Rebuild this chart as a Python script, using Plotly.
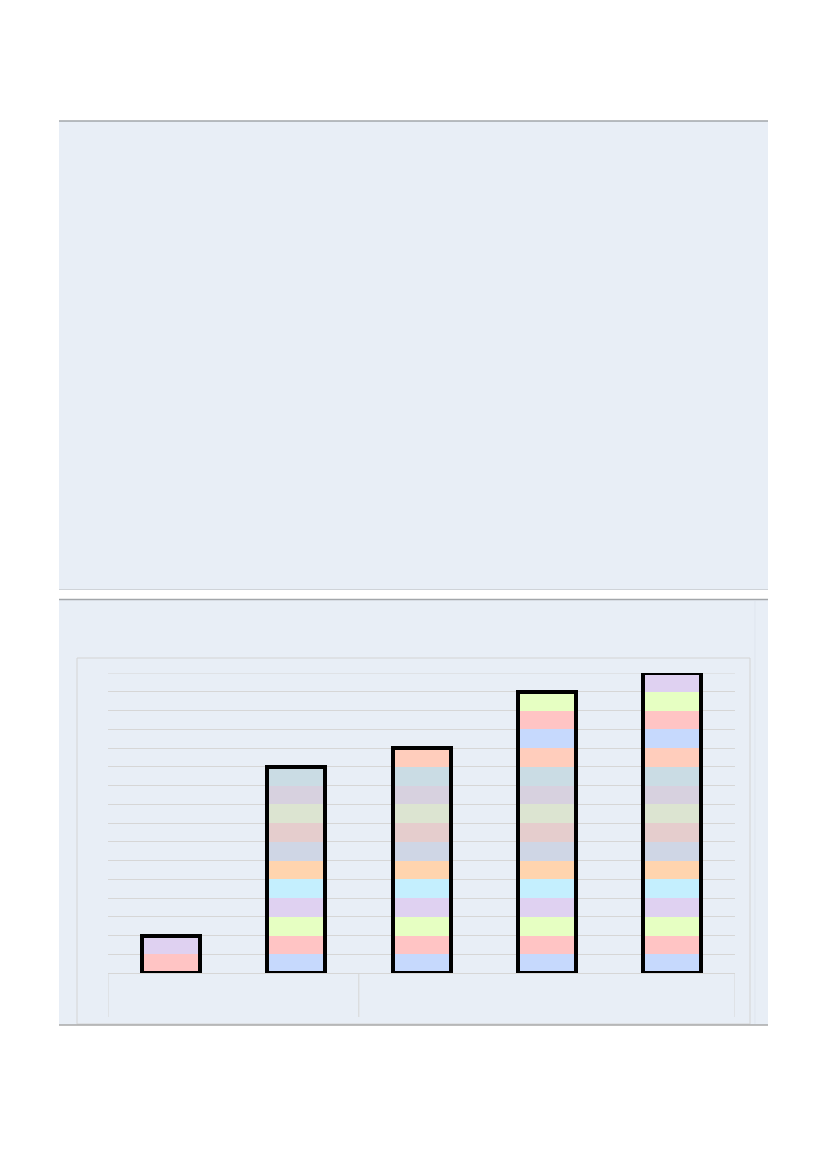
import plotly.graph_objects as go

# bars in the order they appear, left to right
categories = [0, 1, 2, 3, 4]
# colour slot (index into palette) of each unit segment, bottom to top
bar_segments = [
    [1, 3],
    [0, 1, 2, 3, 4, 5, 6, 7, 8, 9, 10],
    [0, 1, 2, 3, 4, 5, 6, 7, 8, 9, 10, 11],
    [0, 1, 2, 3, 4, 5, 6, 7, 8, 9, 10, 11, 0, 1, 2],
    [0, 1, 2, 3, 4, 5, 6, 7, 8, 9, 10, 11, 0, 1, 2, 3],
]
segment_value = 1
y_max = 16
# bars per group on the category axis
group_sizes = [2, 3]

palette = ["#c6d9fd", "#ffc4c4", "#e6ffc2", "#dfd1f1", "#c4effe", "#ffd4ae",
           "#cfd6e5", "#e5cdcd", "#dce4d1", "#d7d1df", "#cadce4", "#ffcdbc"]

PANEL = "#e8eef6"
GRID = "#d6d6d6"

# plot area in screen pixels (page has an 8px body margin)
OFF = 8
L, R, T, B = 108, 735, 673, 973


def px(x):
    return (x - L) / (R - L)


def py(y):
    return (B - y) / (B - T)


fig = go.Figure()

n_levels = max(len(s) for s in bar_segments)
for lvl in range(n_levels):
    ys, cols = [], []
    for segs in bar_segments:
        if lvl < len(segs):
            ys.append(segment_value)
            cols.append(palette[segs[lvl]])
        else:
            ys.append(0)
            cols.append("rgba(0,0,0,0)")
    fig.add_trace(go.Bar(x=categories, y=ys, width=0.4625,
                         marker=dict(color=cols, line=dict(width=0)),
                         showlegend=False, hoverinfo="skip"))

totals = [len(s) * segment_value for s in bar_segments]
fig.add_trace(go.Bar(x=categories, y=totals, width=0.4625, xaxis="x2",
                     marker=dict(color="rgba(0,0,0,0)",
                                 line=dict(color="black", width=4)),
                     showlegend=False, hoverinfo="skip"))

shapes = [
    # upper empty panel
    dict(type="rect", xref="paper", yref="paper", x0=px(59), x1=px(768),
         y0=py(590), y1=py(121), fillcolor=PANEL, line=dict(width=0), layer="below"),
    dict(type="line", xref="paper", yref="paper", x0=px(59), x1=px(768),
         y0=py(121), y1=py(121), line=dict(color="#a2a6aa", width=1.5)),
    dict(type="line", xref="paper", yref="paper", x0=px(59), x1=px(768),
         y0=py(589.5), y1=py(589.5), line=dict(color="#cfd3d8", width=1)),
    # lower chart panel
    dict(type="rect", xref="paper", yref="paper", x0=px(59), x1=px(768),
         y0=py(1025), y1=py(599.5), fillcolor=PANEL, line=dict(width=0), layer="below"),
    dict(type="line", xref="paper", yref="paper", x0=px(59), x1=px(768),
         y0=py(599.5), y1=py(599.5), line=dict(color="#a2a6aa", width=1.5)),
    dict(type="line", xref="paper", yref="paper", x0=px(59), x1=px(768),
         y0=py(1025), y1=py(1025), line=dict(color="#a8a8a8", width=1.5)),
    dict(type="line", xref="paper", yref="paper", x0=px(755), x1=px(755),
         y0=py(1024), y1=py(601), line=dict(color="#dfe5ee", width=1)),
    dict(type="rect", xref="paper", yref="paper", x0=px(77), x1=px(750),
         y0=py(1024), y1=py(658), line=dict(color="#d4d4d4", width=1), layer="below"),
    # top gridline, which plotly leaves out at the range edge
    dict(type="line", xref="paper", yref="y", x0=0, x1=1, y0=y_max, y1=y_max,
         line=dict(color=GRID, width=1), layer="below"),
]

# group dividers under the category axis
edge = -0.5
bounds = [edge]
for g in group_sizes:
    edge += g
    bounds.append(edge)
for b in bounds:
    shapes.append(dict(type="line", xref="x", yref="paper", x0=b, x1=b,
                       y0=0, y1=py(1017), line=dict(color=GRID, width=1)))

fig.update_layout(
    width=827, height=1170,
    margin=dict(l=L - OFF, r=827 - R + OFF, t=T - OFF, b=1170 - B + OFF),
    paper_bgcolor="white",
    plot_bgcolor="rgba(0,0,0,0)",
    barmode="stack",
    bargap=0,
    shapes=shapes,
    xaxis=dict(range=[-0.5, 4.5], showgrid=False, zeroline=False,
               showticklabels=False, ticks="", showline=True,
               linecolor=GRID, linewidth=1),
    xaxis2=dict(range=[-0.5, 4.5], overlaying="x", visible=False),
    yaxis=dict(range=[0, y_max], dtick=1, showgrid=True, gridcolor=GRID,
               gridwidth=1, zeroline=False, showticklabels=False, ticks=""),
)

fig.write_html("out.html")
